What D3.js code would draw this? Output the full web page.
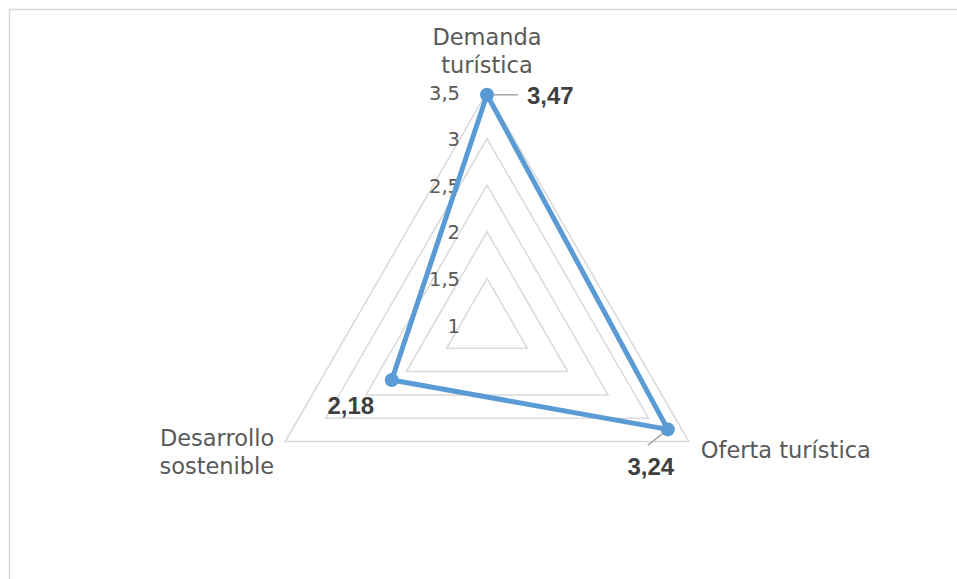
<!DOCTYPE html>
<html>
<head>
<meta charset="utf-8">
<script src="https://cdn.jsdelivr.net/npm/d3@7"></script>
<style>
  body { margin: 0; background: #fff; }
  svg { display: block; }
</style>
</head>
<body>
<svg id="chart" width="957" height="579"></svg>
<script>
// chart data
const categories = [["Demanda", "turística"], ["Oferta turística"], ["Desarrollo", "sostenible"]];
const values = [3.47, 3.24, 2.18];
const valueLabels = ["3,47", "3,24", "2,18"];
const ringValues = [1.5, 2, 2.5, 3, 3.5];
const tickValues = [1, 1.5, 2, 2.5, 3, 3.5];
const tickLabels = ["1", "1,5", "2", "2,5", "3", "3,5"];

const svg = d3.select("#chart");
const cx = 487, cy = 325;

// radial scale, centre of the plot is the value 1
const r = d3.scaleLinear().domain([1, 3.5]).range([0, 233]);
const angle = d3.scaleLinear().domain([0, categories.length]).range([-Math.PI / 2, 3 * Math.PI / 2]);

function pt(i, v) {
    const a = angle(i);
    return [cx + r(v) * Math.cos(a), cy + r(v) * Math.sin(a)];
}

// outer frame of the chart area
svg.append("rect")
    .attr("x", 9.5).attr("y", 9.5)
    .attr("width", 1200).attr("height", 1200)
    .attr("fill", "none")
    .attr("stroke", "#d9d9d9")
    .attr("stroke-width", 1.5);

const g = svg.append("g");

// grid triangles
g.selectAll(".ring")
    .data(ringValues)
    .enter()
    .append("polygon")
    .attr("class", "ring")
    .attr("points", v => categories.map((c, i) => pt(i, v).join(",")).join(" "))
    .attr("fill", "none")
    .attr("stroke", "#d9d9d9")
    .attr("stroke-width", 1.5);

// tick labels on the top axis
g.selectAll(".tick")
    .data(tickValues)
    .enter()
    .append("text")
    .attr("class", "tick")
    .attr("x", cx - 27)
    .attr("y", d => cy - r(d) + 1)
    .attr("text-anchor", "end")
    .attr("dominant-baseline", "central")
    .attr("font-family", "DejaVu Sans, sans-serif")
    .attr("font-size", 19.5)
    .attr("fill", "#595959")
    .text((d, i) => tickLabels[i]);

// category labels
const catStyle = [
    { dx: 0, dy: -55, anchor: "middle" },
    { dx: 12, dy: 8, anchor: "start" },
    { dx: -11, dy: -4, anchor: "end" }
];
categories.forEach((lines, i) => {
    const p = pt(i, 3.5);
    const s = catStyle[i];
    const t = g.append("text")
        .attr("text-anchor", s.anchor)
        .attr("font-family", "DejaVu Sans, sans-serif")
        .attr("font-size", 22.5)
        .attr("fill", "#595959");
    lines.forEach((line, k) => {
        t.append("tspan")
            .attr("x", p[0] + s.dx)
            .attr("y", p[1] + s.dy + k * 28)
            .attr("dominant-baseline", "central")
            .text(line);
    });
});

// series line
const line = d3.line().curve(d3.curveLinearClosed);
g.append("path")
    .attr("d", line(values.map((v, i) => pt(i, v))))
    .attr("fill", "none")
    .attr("stroke", "#5b9bd5")
    .attr("stroke-width", 5)
    .attr("stroke-linejoin", "round");

// leader lines for the data labels
const leaders = [
    { x2: 31, y2: 0 },
    { x2: -20, y2: 16 },
    null
];
values.forEach((v, i) => {
    if (!leaders[i]) return;
    const p = pt(i, v);
    g.append("line")
        .attr("x1", p[0]).attr("y1", p[1])
        .attr("x2", p[0] + leaders[i].x2).attr("y2", p[1] + leaders[i].y2)
        .attr("stroke", "#a6a6a6")
        .attr("stroke-width", 1.5);
});

// markers
g.selectAll(".marker")
    .data(values)
    .enter()
    .append("circle")
    .attr("class", "marker")
    .attr("cx", (d, i) => pt(i, d)[0])
    .attr("cy", (d, i) => pt(i, d)[1])
    .attr("r", 7)
    .attr("fill", "#5b9bd5");

// data labels
const labelOffset = [
    { dx: 40, dy: 1, anchor: "start" },
    { dx: -17, dy: 37, anchor: "middle" },
    { dx: -41, dy: 26, anchor: "middle" }
];
g.selectAll(".dlabel")
    .data(values)
    .enter()
    .append("text")
    .attr("class", "dlabel")
    .attr("x", (d, i) => pt(i, d)[0] + labelOffset[i].dx)
    .attr("y", (d, i) => pt(i, d)[1] + labelOffset[i].dy)
    .attr("text-anchor", (d, i) => labelOffset[i].anchor)
    .attr("dominant-baseline", "central")
    .attr("font-family", "Liberation Sans, Arial, sans-serif")
    .attr("font-weight", "bold")
    .attr("font-size", 24)
    .attr("fill", "#404040")
    .text((d, i) => valueLabels[i]);
</script>
</body>
</html>
